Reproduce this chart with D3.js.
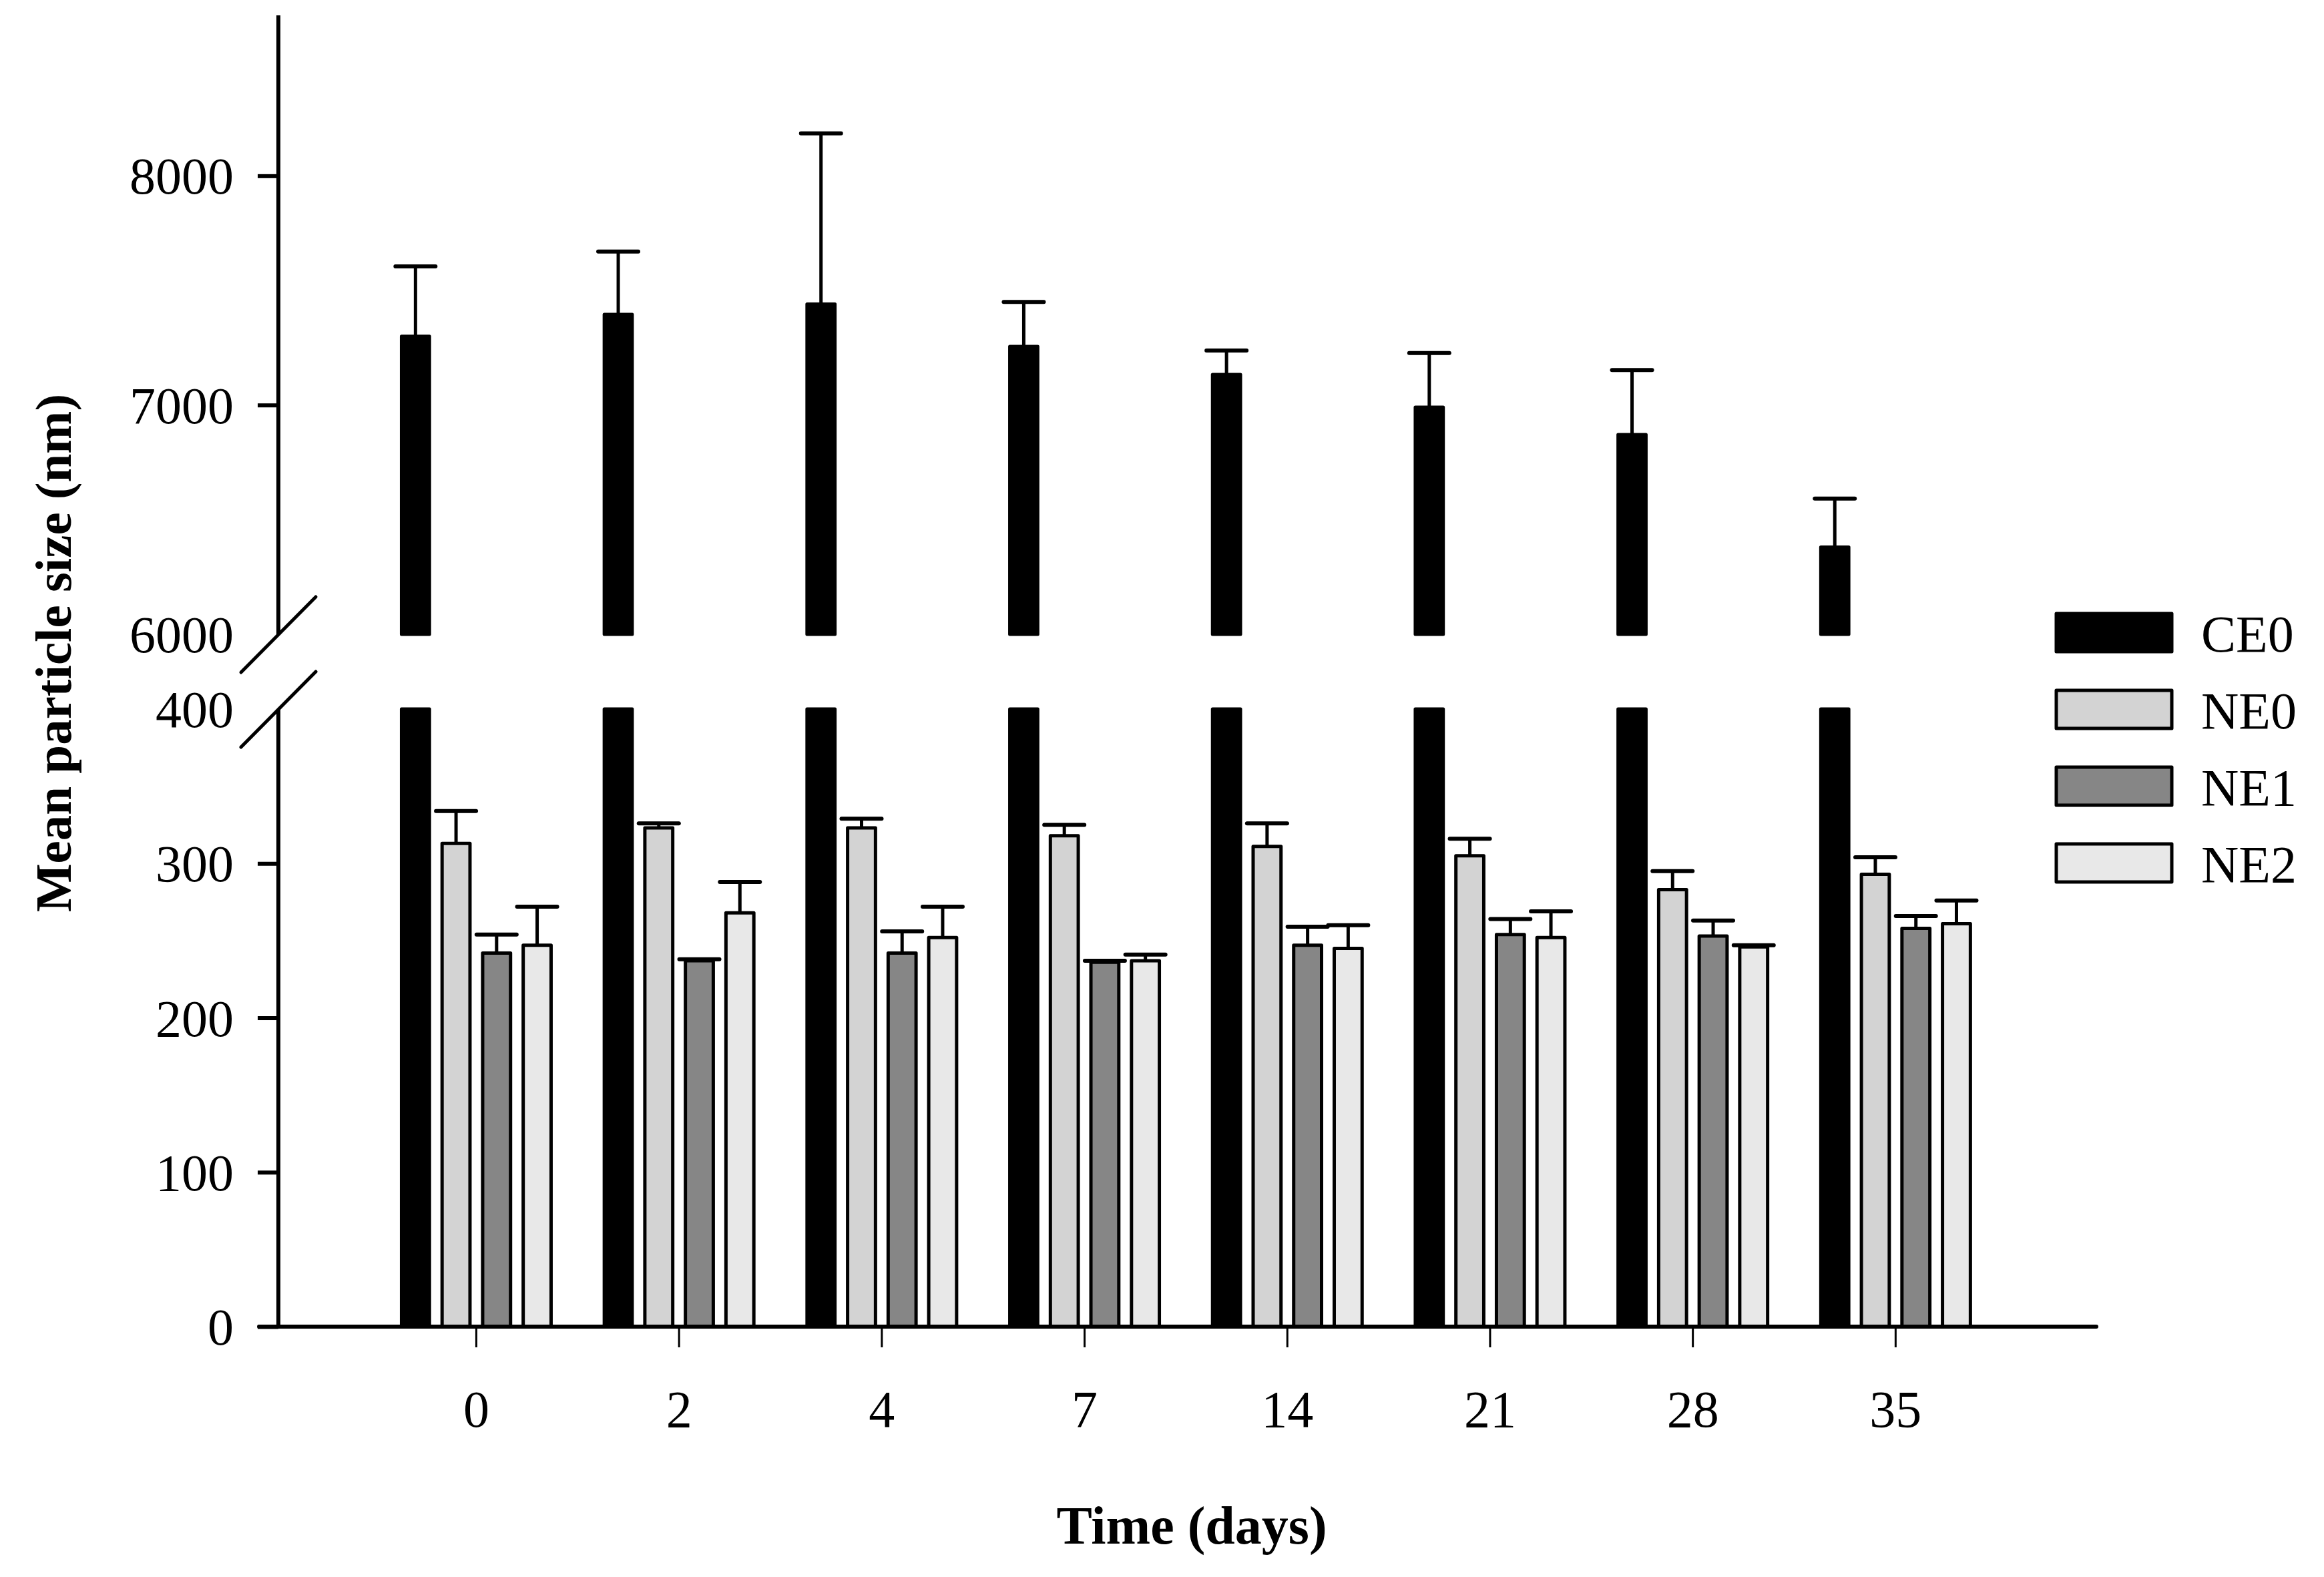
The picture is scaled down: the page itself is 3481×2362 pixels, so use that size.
<!DOCTYPE html>
<html>
<head>
<meta charset="utf-8">
<script src="https://cdn.jsdelivr.net/npm/d3@7"></script>
<style>
  body { margin: 0; background: #fff; }
  text { font-family: "Liberation Serif", "Times New Roman", serif; fill: #000; }
</style>
</head>
<body>
<svg id="chart"></svg>
<script>
// Data
const days = ["0", "2", "4", "7", "14", "21", "28", "35"];
const series = ["CE0", "NE0", "NE1", "NE2"];
const colors = ["#000000", "#d3d3d3", "#868686", "#e8e8e8"];

const ce0Mean = [7300, 7395, 7440, 7255, 7133, 6990, 6871, 6380];
const ce0Err = [305, 275, 745, 195, 105, 237, 282, 212];
const ne0Mean = [313, 323, 323, 318, 311, 305, 283, 293];
const ne0Err = [21, 3, 6, 7, 15, 11, 12, 11];
const ne1Mean = [242, 237, 242, 236, 247, 254, 253, 258];
const ne1Err = [12, 1, 14, 1, 12, 10, 10, 8];
const ne2Mean = [247, 268, 252, 237, 245, 252, 246, 261];
const ne2Err = [25, 20, 20, 4, 15, 17, 1, 15];

const upperTicks = [6000, 7000, 8000];
const lowerTicks = [0, 100, 200, 300, 400];

const means = [ce0Mean, ne0Mean, ne1Mean, ne2Mean];
const errs = [ce0Err, ne0Err, ne1Err, ne2Err];

const W = 3481, H = 2362;
const sw = 5;

const svg = d3.select("#chart")
    .attr("width", W)
    .attr("height", H);

svg.append("rect").attr("width", W).attr("height", H).attr("fill", "#fff");

// Scales: broken y axis (two segments)
const axisX = 417;
const yUp = d3.scaleLinear().domain([6000, 8700]).range([950, 23]);
const yLo = d3.scaleLinear().domain([0, 400]).range([1987, 1062]);

const x0 = d3.scaleBand().domain(days).range([561.6, 2991.2]).paddingInner(0).paddingOuter(0);
const groupW = 229;
const x1 = d3.scaleBand().domain(series).range([0, groupW]).paddingInner(0.23).paddingOuter(0);
const groupLeft = d => x0(d) + (x0.bandwidth() - groupW) / 2;

// Bars
const bars = [];
days.forEach((d, i) => {
    series.forEach((s, j) => {
        bars.push({ day: d, s: s, j: j, v: means[j][i], e: errs[j][i] });
    });
});

const g = svg.append("g");

bars.forEach(b => {
    const bx = groupLeft(b.day) + x1(b.s);
    const bw = x1.bandwidth();
    const segs = [];
    if (b.v > 400) {
        segs.push([yLo(400), yLo(0)]);
        segs.push([yUp(b.v), yUp(6000)]);
    } else {
        segs.push([yLo(b.v), yLo(0)]);
    }
    segs.forEach(sg => {
        g.append("rect")
            .attr("x", bx + sw / 2)
            .attr("y", sg[0])
            .attr("width", bw - sw)
            .attr("height", sg[1] - sg[0])
            .attr("fill", colors[b.j])
            .attr("stroke", "#000")
            .attr("stroke-width", sw)
            .attr("stroke-linejoin", "round");
    });
    // upward error bar
    const sc = b.v > 400 ? yUp : yLo;
    const cx = bx + bw / 2;
    g.append("line")
        .attr("x1", cx).attr("x2", cx)
        .attr("y1", sc(b.v)).attr("y2", sc(b.v + b.e))
        .attr("stroke", "#000").attr("stroke-width", sw);
    g.append("line")
        .attr("x1", cx - 30).attr("x2", cx + 30)
        .attr("y1", sc(b.v + b.e)).attr("y2", sc(b.v + b.e))
        .attr("stroke", "#000").attr("stroke-width", sw + 1)
        .attr("stroke-linecap", "round");
});

// Y axes
function drawYAxis(scale, ticks, hideTick) {
    const ax = svg.append("g")
        .attr("transform", `translate(${axisX},0)`)
        .call(d3.axisLeft(scale).tickValues(ticks).tickSize(31).tickPadding(36).tickFormat(d3.format("d")));
    ax.select(".domain").remove();
    ax.selectAll(".tick line").attr("stroke", "#000").attr("stroke-width", 6)
        .filter(d => d === hideTick).remove();
    ax.selectAll(".tick text")
        .attr("font-size", 78)
        .attr("font-family", "Liberation Serif, serif")
        .attr("dy", "0.34em");
    svg.append("line")
        .attr("x1", axisX).attr("x2", axisX)
        .attr("y1", scale.range()[1]).attr("y2", scale.range()[0])
        .attr("stroke", "#000").attr("stroke-width", 6);
}
drawYAxis(yUp, upperTicks, 6000);
drawYAxis(yLo, lowerTicks, 400);

// Break marks
[yUp(6000), yLo(400)].forEach(yy => {
    svg.append("line")
        .attr("x1", axisX - 56).attr("y1", yy + 57)
        .attr("x2", axisX + 56).attr("y2", yy - 56)
        .attr("stroke", "#000").attr("stroke-width", 5)
        .attr("stroke-linecap", "round");
});

// X axis
svg.append("line")
    .attr("x1", 388).attr("x2", 3140)
    .attr("y1", yLo(0)).attr("y2", yLo(0))
    .attr("stroke", "#000").attr("stroke-width", 6)
    .attr("stroke-linecap", "round");

const xAx = svg.append("g")
    .attr("transform", `translate(0,${yLo(0)})`)
    .call(d3.axisBottom(x0).tickSize(31).tickPadding(119));
xAx.select(".domain").remove();
xAx.selectAll(".tick line").attr("stroke", "#000").attr("stroke-width", 3);
xAx.selectAll(".tick text")
    .attr("font-size", 78)
    .attr("font-family", "Liberation Serif, serif")
    .attr("dy", "0");

// Axis titles
svg.append("text")
    .attr("x", 1785)
    .attr("y", 2312)
    .attr("text-anchor", "middle")
    .attr("font-size", 80)
    .attr("font-weight", "bold")
    .text("Time (days)");

svg.append("text")
    .attr("transform", "translate(106,978) rotate(-90)")
    .attr("text-anchor", "middle")
    .attr("font-size", 77)
    .attr("font-weight", "bold")
    .text("Mean particle size (nm)");

// Legend
const legend = svg.append("g").attr("transform", "translate(3080,919)");
series.forEach((s, i) => {
    legend.append("rect")
        .attr("x", 0)
        .attr("y", i * 115)
        .attr("width", 173)
        .attr("height", 57)
        .attr("fill", colors[i])
        .attr("stroke", "#000")
        .attr("stroke-width", sw)
        .attr("stroke-linejoin", "round");
    legend.append("text")
        .attr("x", 217)
        .attr("y", i * 115 + 57)
        .attr("font-size", 78)
        .text(s);
});
</script>
</body>
</html>
